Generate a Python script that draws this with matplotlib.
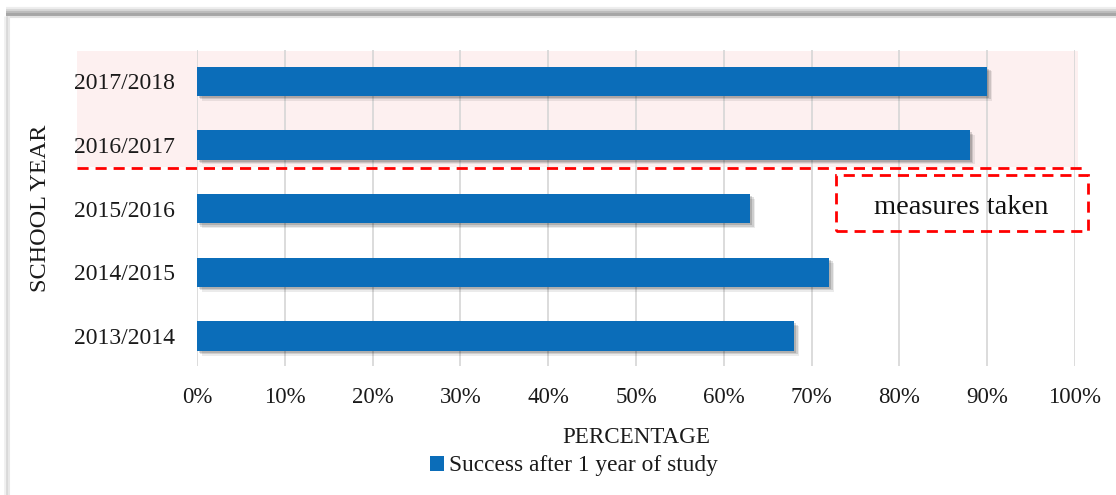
import matplotlib
matplotlib.use("Agg")
import matplotlib.pyplot as plt
from matplotlib.patches import Rectangle
from matplotlib.lines import Line2D
import matplotlib.patheffects as pe
from matplotlib.ticker import PercentFormatter

# Data
school_years = ["2013/2014", "2014/2015", "2015/2016", "2016/2017", "2017/2018"]
success_rate = [68, 72, 63, 88, 90]
series_name = "Success after 1 year of study"
x_ticks = [0, 10, 20, 30, 40, 50, 60, 70, 80, 90, 100]

W, H = 1116, 495
plt.rcParams["font.family"] = ["Liberation Serif", "DejaVu Serif"]

fig = plt.figure(figsize=(W / 100, H / 100), dpi=100)
fig.patch.set_facecolor("white")

def fx(px):
    return px / W

def fy(py):
    return 1 - py / H

# Chart frame with a soft shadow along the top and left edges
for yy, col, lw in [(9, "#EEEEEE", 3), (11, "#D8D8D8", 3), (13, "#BDBDBD", 3),
                    (15, "#A6A6A6", 3), (17, "#E2E2E2", 1.5)]:
    fig.add_artist(Line2D([fx(6), fx(W + 5)], [fy(yy), fy(yy)], color=col, lw=lw,
                          transform=fig.transFigure, zorder=0, solid_capstyle="butt"))
for xx, col, lw in [(5, "#F0F0F0", 2), (7, "#D9D9D9", 2), (9, "#E8E8E8", 1.5)]:
    fig.add_artist(Line2D([fx(xx), fx(xx)], [fy(16), fy(H + 5)], color=col, lw=lw,
                          transform=fig.transFigure, zorder=0, solid_capstyle="butt"))

ax = fig.add_axes([fx(197), fy(366), fx(1075) - fx(197), fy(50) - fy(366)])
ax.set_facecolor("none")

# Highlighted period after the measures
fig.add_artist(Rectangle((fx(77), fy(167)), fx(1078) - fx(77), fy(51) - fy(167),
                         transform=fig.transFigure, facecolor="#FDF0F0",
                         edgecolor="none", zorder=-1))

y_pos = list(range(len(school_years)))
bars = ax.barh(y_pos, success_rate, height=0.46, color="#0B6DB9", zorder=3,
               label=series_name)
soft_shadow = [
    pe.SimplePatchShadow(offset=(3.5, -3.5), shadow_rgbFace="#000000", alpha=0.08),
    pe.SimplePatchShadow(offset=(2.5, -2.5), shadow_rgbFace="#000000", alpha=0.12),
    pe.SimplePatchShadow(offset=(1.5, -1.5), shadow_rgbFace="#000000", alpha=0.15),
    pe.Normal(),
]
for b in bars:
    b.set_path_effects(soft_shadow)

ax.set_xlim(0, 100)
ax.set_ylim(-0.47, 4.49)
ax.set_xticks(x_ticks)
ax.xaxis.set_major_formatter(PercentFormatter(decimals=0))
ax.set_yticks(y_pos)
ax.set_yticklabels(school_years)
ax.tick_params(axis="both", length=0, colors="#1A1A1A")
ax.tick_params(axis="x", pad=15, labelsize=16.5)
ax.tick_params(axis="y", pad=16, labelsize=17)
ax.grid(axis="x", color="#D6D6D6", lw=1.2, zorder=0)
ax.set_axisbelow(True)
for s in ax.spines.values():
    s.set_visible(False)

ax.set_xlabel("PERCENTAGE", fontsize=16.6, color="#1A1A1A", labelpad=14)
fig.text(fx(41), fy(208), "SCHOOL YEAR", rotation=90, ha="center", va="center",
         fontsize=17.5, color="#1A1A1A")

# Separator between periods and annotation box
fig.add_artist(Line2D([fx(77), fx(1088)], [fy(168), fy(168)], color="#FF0000",
                      lw=2, ls=(0, (4, 2.5)), transform=fig.transFigure, zorder=5))
fig.add_artist(Rectangle((fx(836), fy(231)), fx(1088) - fx(836), fy(175) - fy(231),
                         transform=fig.transFigure, facecolor="none",
                         edgecolor="#FF0000", lw=2, ls=(0, (4, 2.5)), zorder=5))
fig.text(fx(961), fy(207), "measures taken", ha="center", va="center",
         fontsize=20.5, color="#111111")

leg = fig.legend(handles=[bars], labels=[series_name], loc="center",
                 bbox_to_anchor=(fx(574), fy(466)), frameon=False, fontsize=16.8,
                 handlelength=0.6, handleheight=0.6, handletextpad=0.2)
for t in leg.get_texts():
    t.set_color("#1A1A1A")
leg.legend_handles[0].set_path_effects([])

fig.savefig("out.png", dpi=100, facecolor="white")
